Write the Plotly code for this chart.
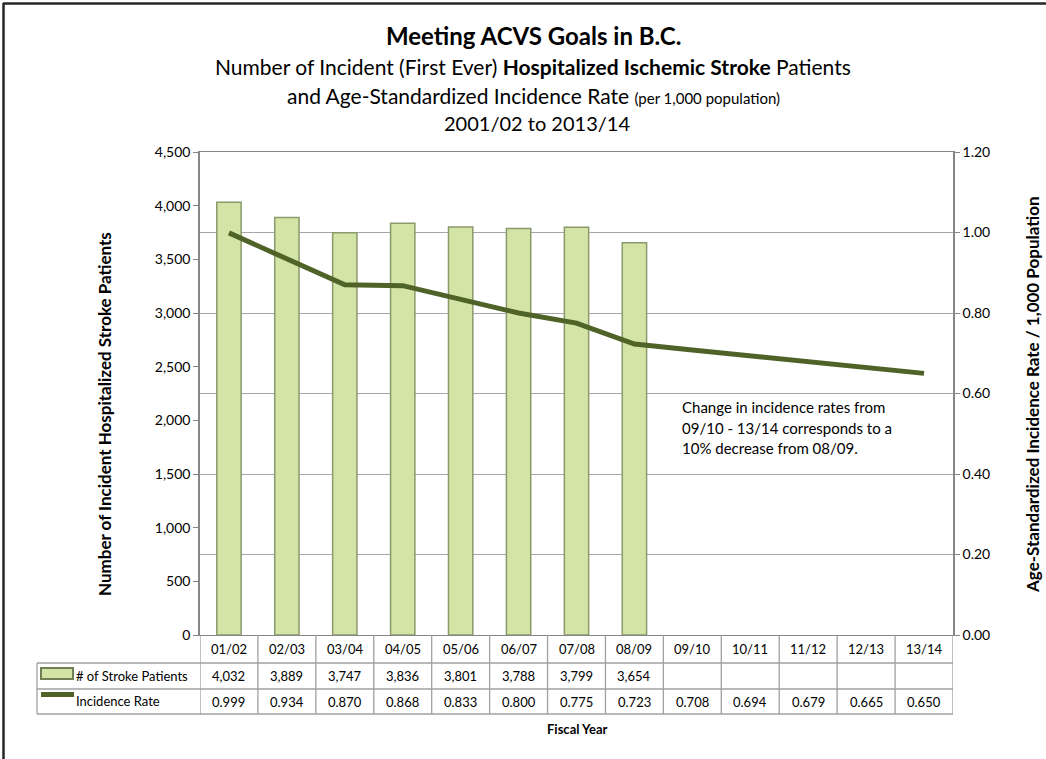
import plotly.graph_objects as go
from plotly.subplots import make_subplots

categories = ['01/02', '02/03', '03/04', '04/05', '05/06', '06/07', '07/08',
              '08/09', '09/10', '10/11', '11/12', '12/13', '13/14']
patients = [4032, 3889, 3747, 3836, 3801, 3788, 3799, 3654, None, None, None, None, None]
rates = [0.999, 0.934, 0.870, 0.868, 0.833, 0.800, 0.775, 0.723,
         0.708, 0.694, 0.679, 0.665, 0.650]
left_ticks = [0, 500, 1000, 1500, 2000, 2500, 3000, 3500, 4000, 4500]
right_ticks = [0.0, 0.2, 0.4, 0.6, 0.8, 1.0, 1.2]

W, H = 1046, 759
L, R, T, B = 200, 93, 152, 124
PW, PH = W - L - R, H - T - B

def px(xp):
    return (xp - L) / PW

def py(yp):
    return (H - B - yp) / PH

FONT = "Lato"
BAR_FILL = "#D4E4A6"
BAR_EDGE = "#8A9A6B"
LINE_C = "#4F6228"
AX_C = "#868686"
TBL_C = "#A0A0A0"

fig = make_subplots(specs=[[{"secondary_y": True}]])
fig.add_trace(go.Bar(x=categories, y=patients, width=0.42,
                     marker=dict(color=BAR_FILL, line=dict(color=BAR_EDGE, width=1.5)),
                     name="# of Stroke Patients", showlegend=False), secondary_y=False)
fig.add_trace(go.Scatter(x=categories, y=rates, mode="lines",
                         line=dict(color=LINE_C, width=5),
                         name="Incidence Rate", showlegend=False), secondary_y=True)

fig.update_layout(
    width=W, height=H, margin=dict(l=L, r=R, t=T, b=B),
    paper_bgcolor="white", plot_bgcolor="white",
    font=dict(family=FONT, size=14, color="#000"),
)
fig.update_xaxes(type="category", range=[-0.5, len(categories) - 0.5],
                 domain=[0, 1],
                 showline=True, linecolor=AX_C, linewidth=1, mirror=True,
                 showticklabels=False, ticks="", showgrid=False)
fig.update_yaxes(range=[0, 4500], tickvals=left_ticks, tickformat=",d",
                 showline=True, linecolor=AX_C, linewidth=1.5, ticks="outside",
                 ticklen=5, tickcolor=AX_C, showgrid=False, zeroline=False,
                 tickfont=dict(size=14), secondary_y=False)
fig.update_yaxes(range=[0, 1.2], tickvals=right_ticks, tickformat=".2f",
                 showline=True, linecolor=AX_C, linewidth=1.5, ticks="outside",
                 ticklen=5, tickcolor=AX_C, showgrid=True, gridcolor="#A6A6A6",
                 gridwidth=1, zeroline=False, tickfont=dict(size=14),
                 secondary_y=True)

shapes = []
ann = []

def A(**kw):
    kw.setdefault("showarrow", False)
    kw.setdefault("xanchor", "center")
    kw.setdefault("yanchor", "middle")
    kw.setdefault("xref", "paper")
    kw.setdefault("yref", "paper")
    ann.append(kw)

row_y = [635, 663, 689, 714]
leg_left = 37
n = len(categories)
for yv in row_y[1:]:
    shapes.append(dict(type="line", xref="paper", yref="paper",
                       x0=px(leg_left), x1=1, y0=py(yv), y1=py(yv),
                       line=dict(color=TBL_C, width=1.3)))
for i in range(n + 1):
    shapes.append(dict(type="line", xref="x", yref="paper",
                       x0=i - 0.5, x1=i - 0.5, y0=0, y1=py(row_y[3]),
                       line=dict(color=TBL_C, width=1.3)))
shapes.append(dict(type="line", xref="paper", yref="paper",
                   x0=px(leg_left), x1=px(leg_left), y0=py(row_y[1]), y1=py(row_y[3]),
                   line=dict(color=TBL_C, width=1.3)))
shapes.append(dict(type="rect", xref="paper", yref="paper",
                   x0=px(41), x1=px(73), y0=py(679), y1=py(668),
                   fillcolor=BAR_FILL, line=dict(color="#6E7E55", width=2)))
shapes.append(dict(type="line", xref="paper", yref="paper",
                   x0=px(41), x1=px(74), y0=py(694.5), y1=py(694.5),
                   line=dict(color=LINE_C, width=5)))
shapes.append(dict(type="line", xref="paper", yref="paper",
                   x0=px(3), x1=px(1046), y0=py(3.5), y1=py(3.5),
                   line=dict(color="#262626", width=2.5)))
shapes.append(dict(type="line", xref="paper", yref="paper",
                   x0=px(3.5), x1=px(3.5), y0=py(3), y1=py(759),
                   line=dict(color="#262626", width=2.5)))

tfont = dict(family=FONT, size=13, color="#000")
for i, c in enumerate(categories):
    A(x=c, xref="x", y=py((row_y[0] + row_y[1]) / 2), text=c, font=tfont)
    if patients[i] is not None:
        A(x=c, xref="x", y=py((row_y[1] + row_y[2]) / 2),
          text=f"{patients[i]:,}", font=tfont)
    A(x=c, xref="x", y=py((row_y[2] + row_y[3]) / 2),
      text=f"{rates[i]:.3f}", font=tfont)

A(x=px(74), y=py(676), xanchor="left", text="# of Stroke Patients", font=tfont)
A(x=px(74), y=py(701), xanchor="left", text="Incidence Rate", font=tfont)
A(x=px(577), y=py(729), text="<b>Fiscal Year</b>", font=tfont)

note = ["Change in incidence rates from", "09/10 - 13/14 corresponds to a",
        "10% decrease from 08/09."]
for k, line in enumerate(note):
    A(x=px(680), y=py(407 + 20.5 * k), xanchor="left", text=line,
      font=dict(family=FONT, size=15, color="#000"))

A(x=px(533), y=py(35), text="<b>Meeting ACVS Goals in B.C.</b>",
  font=dict(family=FONT, size=24, color="#000"))
A(x=px(533), y=py(66),
  text="Number of Incident (First Ever) <b>Hospitalized Ischemic Stroke</b> Patients",
  font=dict(family=FONT, size=21, color="#000"))
A(x=px(533), y=py(95),
  text="and Age-Standardized Incidence Rate <span style='font-size:15px'>(per 1,000 population)</span>",
  font=dict(family=FONT, size=21, color="#000"))
A(x=px(537), y=py(123), text="2001/02 to 2013/14",
  font=dict(family=FONT, size=20, color="#000"))

A(x=px(104), y=py(414), textangle=-90,
  text="<b>Number of Incident Hospitalized Stroke Patients</b>",
  font=dict(family=FONT, size=17, color="#000"))
A(x=px(1032), y=py(395), textangle=-90,
  text="<b>Age-Standardized Incidence Rate / 1,000 Population</b>",
  font=dict(family=FONT, size=17, color="#000"))

fig.update_layout(shapes=shapes, annotations=ann)
fig.write_html("out.html", config={"displayModeBar": False},
               post_script="document.body.style.margin='0';")
